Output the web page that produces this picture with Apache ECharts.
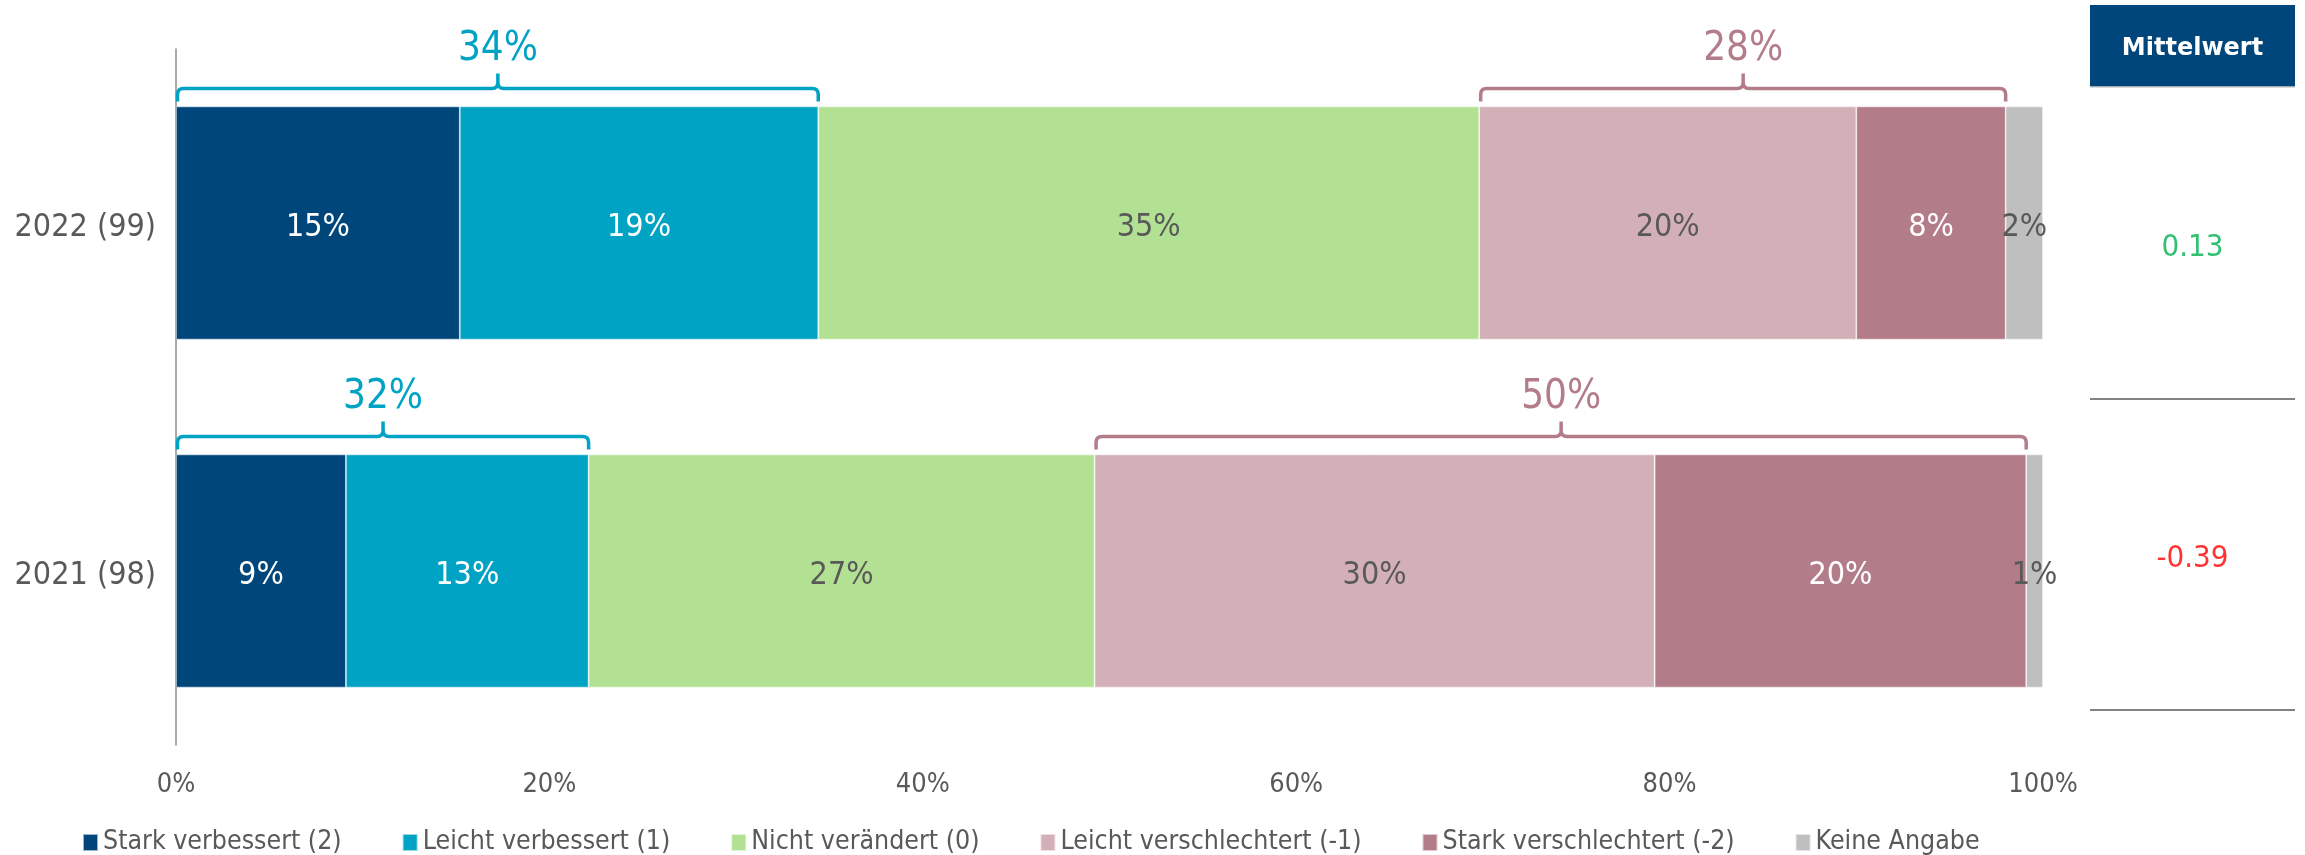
<!DOCTYPE html>
<html>
<head>
<meta charset="utf-8">
<script src="https://cdn.jsdelivr.net/npm/echarts@6/dist/echarts.min.js"></script>
<style>
html,body{margin:0;padding:0;background:#fff;}
#chart{width:2305px;height:855px;}
</style>
</head>
<body>
<div id="chart"></div>
<script>
// ---- data ----
const categories = ['2022 (99)', '2021 (98)'];
const seriesNames = ['Stark verbessert (2)', 'Leicht verbessert (1)', 'Nicht verändert (0)', 'Leicht verschlechtert (-1)', 'Stark verschlechtert (-2)', 'Keine Angabe'];
const starkVerbessert = [15.2, 9.1];
const leichtVerbessert = [19.2, 13.0];
const nichtVeraendert = [35.4, 27.1];
const leichtVerschlechtert = [20.2, 30.0];
const starkVerschlechtert = [8.0, 19.9];
const keineAngabe = [2.0, 0.9];
const positiveLabels = ['34%', '32%'];
const negativeLabels = ['28%', '50%'];
const means = [0.13, -0.39];
const xTickMin = 0, xTickMax = 100, xTickStep = 20;

// ---- styles ----
const FONT = "'DejaVu Sans Condensed', 'DejaVu Sans', sans-serif";
const TXT = '#595959';
const colors = ['#00467a', '#00a3c4', '#b2e194', '#d3b0b8', '#b37c89', '#bfbfbf'];
const labelColors = ['#ffffff', '#ffffff', TXT, TXT, '#ffffff', TXT];
const seriesValues = [starkVerbessert, leichtVerbessert, nichtVeraendert, leichtVerschlechtert, starkVerschlechtert, keineAngabe];

const barSeries = seriesNames.map((name, i) => ({
  name: name,
  type: 'bar',
  stack: 'total',
  barWidth: '67%',
  data: seriesValues[i],
  itemStyle: { color: colors[i], borderColor: 'rgba(255,255,255,0.6)', borderWidth: 0.8 },
  label: {
    show: true,
    position: 'inside',
    offset: [0, 5],
    color: labelColors[i],
    fontSize: 32,
    fontFamily: FONT,
    formatter: p => Math.round(p.value) + '%'
  },
  emphasis: { disabled: true }
}));

const posBrackets = categories.map((c, i) => [0, starkVerbessert[i] + leichtVerbessert[i], i, positiveLabels[i]]);
const negBrackets = categories.map((c, i) => {
  const s = starkVerbessert[i] + leichtVerbessert[i] + nichtVeraendert[i];
  return [s, s + leichtVerschlechtert[i] + starkVerschlechtert[i], i, negativeLabels[i]];
});

function bracketRenderer(color) {
  return function (params, api) {
    const s = api.value(0), e = api.value(1), c = api.value(2);
    const p0 = api.coord([s, c]);
    const p1 = api.coord([e, c]);
    const band = api.size([0, 1])[1];
    const top = p0[1] - band * 0.67 / 2;
    const x0 = p0[0] + 1.5, x1 = p1[0];
    const xm = (x0 + x1) / 2;
    const lineY = top - 18, endY = top - 5, tickY = top - 33, r = 6;
    const d = [
      'M', x0, endY,
      'L', x0, lineY + r,
      'Q', x0, lineY, x0 + r, lineY,
      'L', xm - r, lineY,
      'Q', xm, lineY, xm, lineY - r,
      'L', xm, tickY,
      'M', xm, lineY - r,
      'Q', xm, lineY, xm + r, lineY,
      'L', x1 - r, lineY,
      'Q', x1, lineY, x1, lineY + r,
      'L', x1, endY
    ].join(' ');
    return {
      type: 'group',
      children: [
        { type: 'path', shape: { pathData: d }, style: { stroke: color, fill: 'none', lineWidth: 3.5 } },
        { type: 'text', style: { text: api.value(3), x: xm, y: top - 57, fill: color, fontSize: 40, fontFamily: FONT, align: 'center', verticalAlign: 'middle' } }
      ]
    };
  };
}

const chart = echarts.init(document.getElementById('chart'), null, { renderer: 'canvas' });
chart.setOption({
  animation: false,
  backgroundColor: '#ffffff',
  textStyle: { fontFamily: FONT },
  legend: {
    data: seriesNames,
    left: 82,
    top: 829,
    padding: 0,
    itemGap: 60,
    itemWidth: 15,
    itemHeight: 17,
    icon: 'rect',
    textStyle: { fontSize: 26.5, color: TXT, fontFamily: FONT }
  },
  grid: [
    { left: 176, right: 262, top: 49, bottom: 110, containLabel: false },
    { left: 2090, right: 10, top: 87, bottom: 145, containLabel: false }
  ],
  xAxis: [
    {
      type: 'value', gridIndex: 0, min: xTickMin, max: xTickMax, interval: xTickStep,
      axisLine: { show: false }, axisTick: { show: false }, splitLine: { show: false },
      axisLabel: { formatter: '{value}%', fontSize: 27, color: TXT, fontFamily: FONT, margin: 26 }
    },
    { type: 'value', gridIndex: 1, min: 0, max: 1, show: false }
  ],
  yAxis: [
    {
      type: 'category', gridIndex: 0, data: categories, inverse: true,
      axisLine: { show: true, lineStyle: { color: '#8c8c8c', width: 1.5 } },
      axisTick: { show: false },
      axisLabel: {
        margin: 20,
        formatter: v => '{a|' + v + '}',
        rich: { a: { fontSize: 32, color: TXT, fontFamily: FONT, padding: [10, 0, 0, 0] } }
      }
    },
    {
      type: 'category', gridIndex: 1, data: categories, inverse: true,
      axisLine: { show: false }, axisTick: { show: false }, axisLabel: { show: false },
      splitLine: { show: true, lineStyle: { color: ['#cfcfcf', '#595959', '#595959'], width: 1.5 } }
    }
  ],
  graphic: [
    {
      type: 'group', left: 2090, top: 5,
      children: [
        { type: 'rect', shape: { x: 0, y: 0, width: 205, height: 82 }, style: { fill: '#00467a' } },
        { type: 'text', style: { text: 'Mittelwert', x: 102.5, y: 44, fill: '#ffffff', fontSize: 24, fontWeight: 'bold', fontFamily: "'DejaVu Sans', sans-serif", align: 'center', verticalAlign: 'middle' } }
      ]
    }
  ],
  series: barSeries.concat([
    {
      name: 'posBracket', type: 'custom', xAxisIndex: 0, yAxisIndex: 0,
      data: posBrackets, encode: { x: [0, 1], y: 2 }, clip: false, silent: true, z: 5,
      renderItem: bracketRenderer('#00a3c4')
    },
    {
      name: 'negBracket', type: 'custom', xAxisIndex: 0, yAxisIndex: 0,
      data: negBrackets, encode: { x: [0, 1], y: 2 }, clip: false, silent: true, z: 5,
      renderItem: bracketRenderer('#b37c89')
    },
    {
      name: 'Mittelwert', type: 'scatter', xAxisIndex: 1, yAxisIndex: 1,
      symbolSize: 0, silent: true,
      data: means.map((m, i) => ({
        value: [0.5, i],
        label: { color: m >= 0 ? '#00b050' : '#ff0000' }
      })),
      label: {
        show: true, position: 'inside', offset: [0, 5], fontSize: 31, fontFamily: FONT,
        formatter: p => means[p.dataIndex].toFixed(2)
      }
    }
  ])
});
</script>
</body>
</html>
